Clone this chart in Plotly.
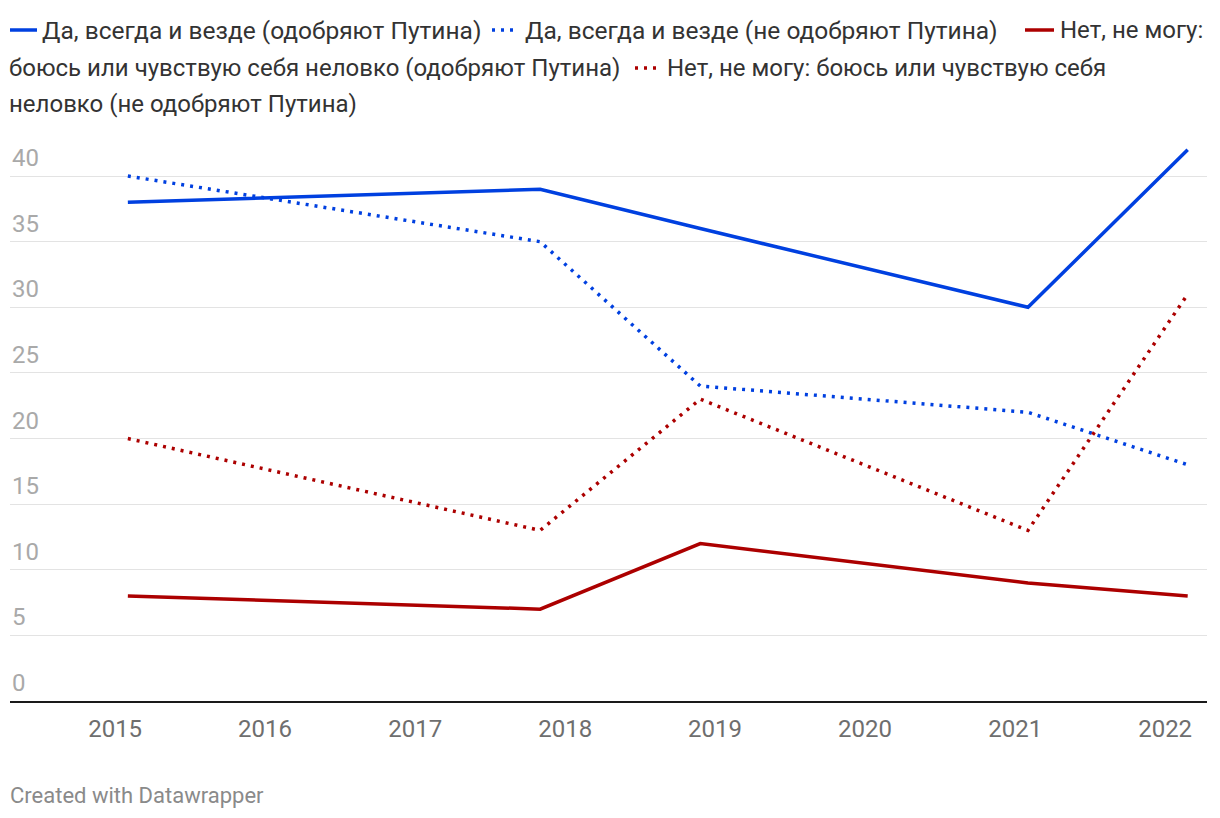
import plotly.graph_objects as go

# ---------------- data ----------------
dates = ["2015-02-01", "2017-11-01", "2018-11-26", "2021-02-01", "2022-02-25"]
yes_approve = [38, 39, 36, 30, 42]
yes_disapprove = [40, 35, 24, 22, 18]
no_approve = [8, 7, 12, 9, 8]
no_disapprove = [20, 13, 23, 13, 31]

series_names = [
    "Да, всегда и везде (одобряют Путина)",
    "Да, всегда и везде (не одобряют Путина)",
    "Нет, не могу: боюсь или чувствую себя неловко (одобряют Путина)",
    "Нет, не могу: боюсь или чувствую себя неловко (не одобряют Путина)",
]
year_ticks = ["2015", "2016", "2017", "2018", "2019", "2020", "2021", "2022"]
y_ticks = [0, 5, 10, 15, 20, 25, 30, 35, 40]
footer = "Created with Datawrapper"

# ---------------- style ----------------
W, H = 1220, 818
L, R, T, B = 10, 1207, 138, 701
BLUE = "#0040e0"
RED = "#ac0000"
FONT = "Roboto"
DOT = "3px,6px"

def pxx(p):
    return (p - L) / (R - L)

def pxy(p):
    return (B - p) / (B - T)

fig = go.Figure()
series = [
    (yes_approve, BLUE, "solid"),
    (yes_disapprove, BLUE, DOT),
    (no_approve, RED, "solid"),
    (no_disapprove, RED, DOT),
]
for name, (vals, col, dash) in zip(series_names, series):
    fig.add_trace(go.Scatter(
        x=dates, y=vals, mode="lines", name=name, showlegend=False,
        line=dict(color=col, width=3.5, dash=dash),
        hoverinfo="x+y",
    ))

annotations = []
shapes = []

# y tick labels above gridlines
for v in y_ticks:
    annotations.append(dict(
        x=0, xref="paper", y=v, yref="y", text=str(v), showarrow=False,
        xanchor="left", yanchor="bottom", yshift=2,
        font=dict(family=FONT, size=24, color="#a9a9a9"),
    ))

# legend (flowing text)
def leg_text(text, x, y, size=24):
    annotations.append(dict(
        x=pxx(x), xref="paper", y=pxy(y), yref="paper", text=text,
        showarrow=False, xanchor="left", yanchor="middle",
        font=dict(family=FONT, size=size, color="#333333"),
    ))

def leg_sym(x0, x1, y, col, dash):
    shapes.append(dict(
        type="line", xref="paper", yref="paper",
        x0=pxx(x0), x1=pxx(x1), y0=pxy(y), y1=pxy(y),
        line=dict(color=col, width=3.5, dash=dash),
    ))

n3a, n3b = series_names[2].split(" боюсь", 1)
n3b = "боюсь" + n3b
n4a, n4b = series_names[3].split(" неловко", 1)
n4b = "неловко" + n4b

leg_sym(10, 37, 30, BLUE, "solid")
leg_text(series_names[0], 40, 30, 24.5)
leg_sym(492, 519, 30, BLUE, DOT)
leg_text(series_names[1], 523, 30, 24.5)
leg_sym(1025, 1054, 30, RED, "solid")
leg_text(n3a, 1058, 30)
leg_text(n3b, 7, 68)
leg_sym(635, 661, 68, RED, DOT)
leg_text(n4a, 665, 68)
leg_text(n4b, 7, 104)

annotations.append(dict(
    x=pxx(8), xref="paper", y=pxy(795), yref="paper", text=footer,
    showarrow=False, xanchor="left", yanchor="middle",
    font=dict(family=FONT, size=22, color="#8a8a8a"),
))

fig.update_layout(
    width=W, height=H,
    margin=dict(l=L, r=W - R, t=T, b=H - B, pad=0),
    paper_bgcolor="white", plot_bgcolor="white",
    font=dict(family=FONT),
    annotations=annotations, shapes=shapes,
    xaxis=dict(
        type="date",
        range=["2014-04-20", "2022-04-13"],
        tickvals=[y + "-01-01" for y in year_ticks],
        ticktext=year_ticks,
        tickfont=dict(family=FONT, size=24, color="#6e6e6e"),
        showgrid=False, zeroline=False,
        showline=True, linecolor="#1a1a1a", linewidth=2,
        ticks="outside", ticklen=5, tickcolor="rgba(0,0,0,0)",
        fixedrange=True,
    ),
    yaxis=dict(
        range=[0, 42.9],
        tickvals=y_ticks,
        showticklabels=False,
        showgrid=True, gridcolor="#e3e3e3", gridwidth=1,
        zeroline=False, showline=False, ticks="",
        fixedrange=True,
    ),
    hovermode="closest",
)

fig.write_html("out.html", config={"displayModeBar": False},
               post_script="document.body.style.margin='0';")
